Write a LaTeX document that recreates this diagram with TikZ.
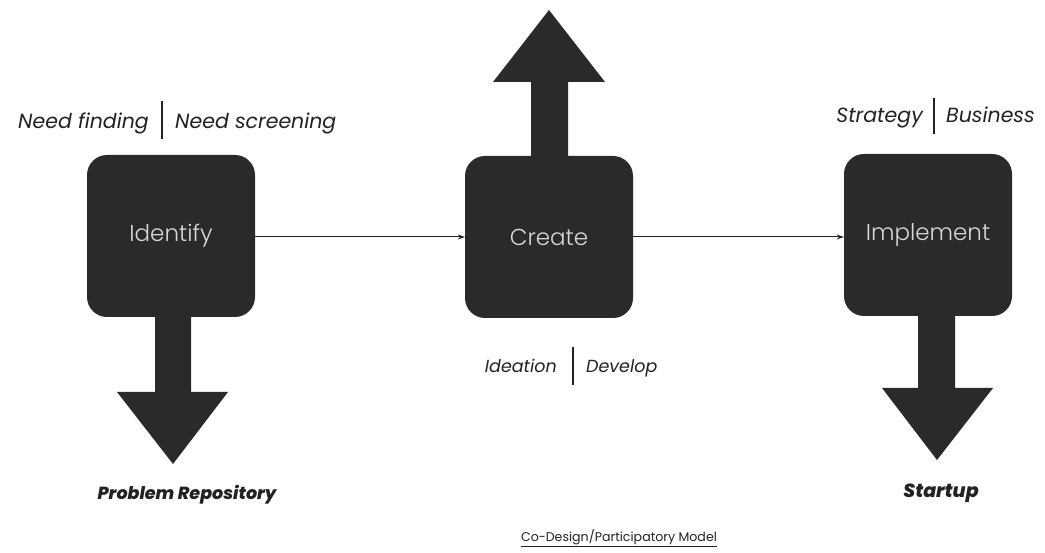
\documentclass[tikz,border=0pt]{standalone}
\usepackage{fontspec}
\setmainfont{Poppins}
\newfontfamily\lightfont{Poppins Light}
\newfontfamily\heavyfont{Poppins ExtraBold Italic}
\usetikzlibrary{calc,arrows.meta}
\definecolor{boxfill}{HTML}{2A2A2A}
\definecolor{boxtext}{HTML}{D8D8D8}
\definecolor{ink}{HTML}{222222}
\tikzset{
  stage/.style={draw=none, fill=boxfill, rounded corners=20pt, minimum width=168pt,
    minimum height=162pt, text=boxtext, font=\lightfont\fontsize{23}{27}\selectfont},
  tag/.style={text=ink, font=\fontsize{20.5}{24}\selectfont\itshape, inner sep=0pt},
  smalltag/.style={text=ink, font=\fontsize{17.5}{21}\selectfont\itshape, inner sep=0pt},
  outcome/.style={text=ink, font=\heavyfont\fontsize{17.5}{21}\selectfont, inner sep=0pt},
  flow/.style={draw=ink, line width=1pt, -{Stealth[length=7pt,width=5pt]}},
  bigarrow/.style={fill=boxfill},
  divider/.style={draw=ink, line width=1.2pt}
}
\begin{document}
\begin{tikzpicture}[x=1pt,y=-1pt]
\useasboundingbox (0,0) rectangle (1045,553);

% stages
\node[stage] (identify) at (171,236) {Identify};
\node[stage] (create) at (549,237) {Create};
\node[stage] (implement) at (928,235) {Implement};

% flow between stages
\draw[flow] (identify.east |- 0,237) -- (create.west);
\draw[flow] (create.east) -- (implement.west |- 0,237);

% block arrow: Identify -> Problem Repository
\fill[bigarrow] ($(identify.south)+(-16,-1)$) -- ($(identify.south)+(20,-1)$)
  -- (191,392) -- (228,392) -- (173,464) -- (117,392) -- (155,392) -- cycle;

% block arrow: Create upwards
\fill[bigarrow] ($(create.north)+(-18,1)$) -- ($(create.north)+(19,1)$)
  -- (568,82) -- (605,82) -- (549,10) -- (493,82) -- (531,82) -- cycle;

% block arrow: Implement -> Startup
\fill[bigarrow] ($(implement.south)+(-10,-1)$) -- ($(implement.south)+(27,-1)$)
  -- (955,388) -- (993,388) -- (937,460) -- (882,388) -- (918,388) -- cycle;

% activity tags
\node[tag, anchor=base east] (nf) at (149,129) {Need finding};
\node[tag, anchor=base west] (ns) at (175,129) {Need screening};
\coordinate (d1t) at (162,101); \coordinate (d1b) at (162,139);
\draw[divider] (d1t) -- (d1b);

\node[smalltag, anchor=base east] (idea) at (557,373) {Ideation};
\node[smalltag, anchor=base west] (dev) at (586,373) {Develop};
\coordinate (d2t) at (573,347); \coordinate (d2b) at (573,385);
\draw[divider] (d2t) -- (d2b);

\node[tag, anchor=base east] (strat) at (923,123) {Strategy};
\node[tag, anchor=base west] (bus) at (946,123) {Business};
\coordinate (d3t) at (934,98); \coordinate (d3b) at (934,134);
\draw[divider] (d3t) -- (d3b);

% outcomes
\node[outcome] (repo) at (187,495) {Problem Repository};
\node[outcome, font=\heavyfont\fontsize{19}{22}\selectfont] (startup) at (941,493) {Startup};

% caption
\node[text=ink, font=\fontsize{12.6}{15}\selectfont, inner sep=0pt] (caption) at (619,538) {\underline{Co-Design/Participatory Model}};
\end{tikzpicture}
\end{document}
